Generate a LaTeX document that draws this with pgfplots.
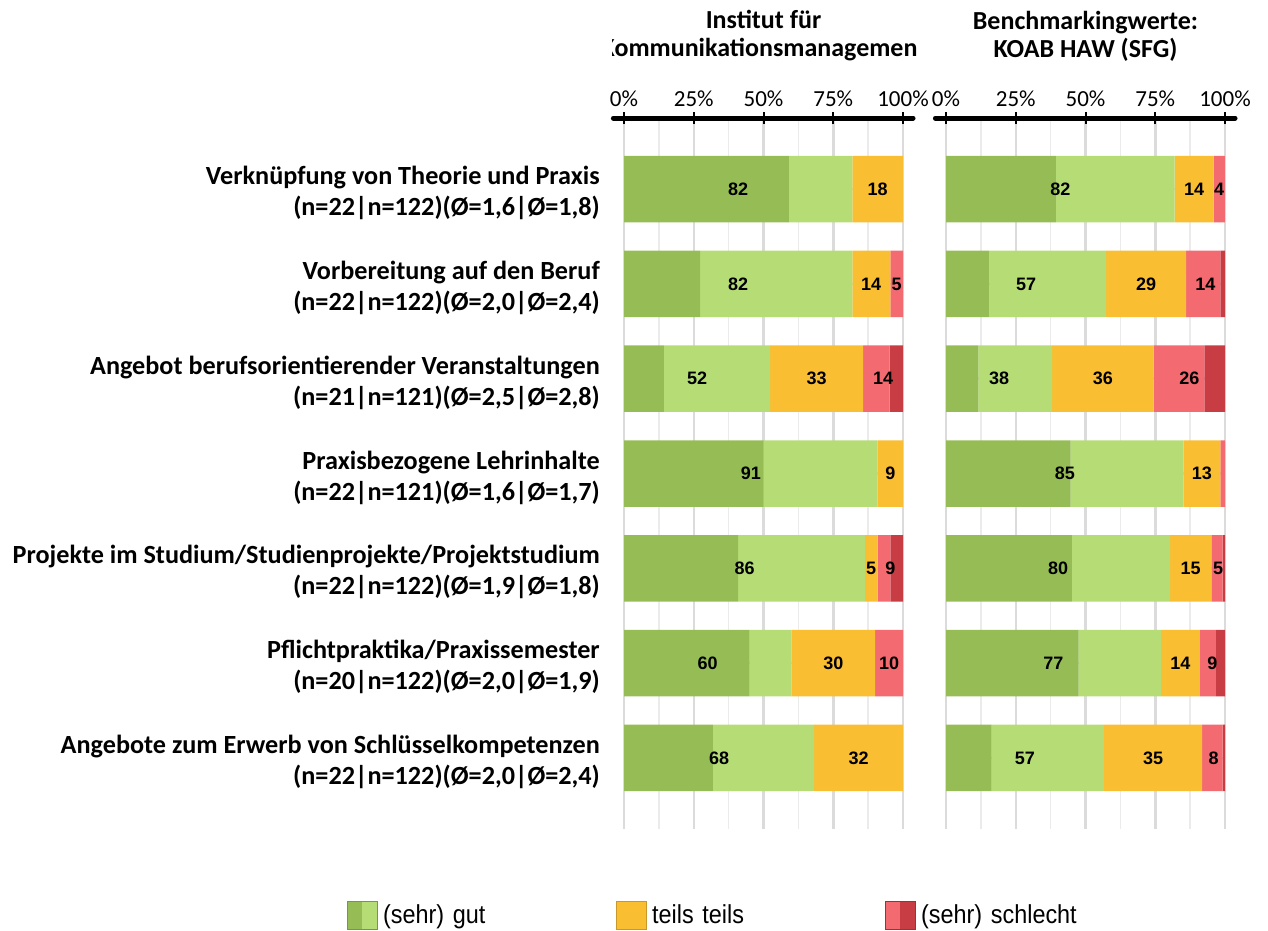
\documentclass[border=0pt]{standalone}
\usepackage{fontspec}
\setmainfont{Carlito}
\newfontfamily\arialfont{Liberation Sans}
\newfontfamily\legfont[FakeStretch=0.9]{Liberation Sans}
\usepackage{pgfplots}
\pgfplotsset{compat=1.18}
\usepackage{pgfplotstable}

\definecolor{dkg}{RGB}{150,189,85}
\definecolor{ltg}{RGB}{182,220,118}
\definecolor{org}{RGB}{250,190,50}
\definecolor{lrd}{RGB}{243,106,112}
\definecolor{drd}{RGB}{200,60,68}

% shares in percent: sehr gut, gut, teils, schlecht, sehr schlecht
\pgfplotstableread{
row dg lg or lr dr
1 59.09 22.73 18.18 0 0
2 27.27 54.55 13.64 4.55 0
3 14.29 38.10 33.33 9.52 4.76
4 50.00 40.91 9.09 0 0
5 40.91 45.45 4.55 4.55 4.55
6 45.00 15.00 30.00 10.00 0
7 31.82 36.36 31.82 0 0
}\leftdata

\pgfplotstableread{
row dg lg or lr dr
1 39.34 42.62 13.93 4.10 0
2 15.57 41.80 28.69 12.30 1.64
3 11.57 26.45 36.36 18.18 7.44
4 44.63 40.50 13.22 1.65 0
5 45.08 35.25 14.75 4.10 0.82
6 47.54 29.51 13.93 5.74 3.28
7 16.39 40.16 35.25 7.38 0.82
}\rightdata

% label positions (centre of the combined segment)
\pgfplotstableread{
x y lab
40.9 1 82
90.9 1 18
40.9 2 82
88.6 2 14
97.7 2 5
26.2 3 52
69.0 3 33
92.9 3 14
45.5 4 91
95.5 4 9
43.2 5 86
88.6 5 5
95.5 5 9
30.0 6 60
75.0 6 30
95.0 6 10
34.1 7 68
84.1 7 32
}\leftlabs

\pgfplotstableread{
x y lab
41.0 1 82
88.9 1 14
97.9 1 4
28.7 2 57
71.7 2 29
93.0 2 14
19.0 3 38
56.2 3 36
87.2 3 26
42.6 4 85
91.7 4 13
40.2 5 80
87.7 5 15
97.5 5 5
38.5 6 77
84.0 6 14
95.5 6 9
28.3 7 57
74.2 7 35
95.9 7 8
}\rightlabs

\pgfplotsset{
  panel/.style={width=279pt, height=711pt, scale only axis,
    xmin=0, xmax=100, ymin=0.25, ymax=7.75, y dir=reverse},
  bars/.style={panel, xbar stacked, bar width=66.5pt,
    axis line style={draw=none},
    xtick={0,25,50,75,100}, minor x tick num=1,
    xtick pos=right, xticklabel pos=right,
    xticklabel={\pgfmathprintnumber[assume math mode=true]{\tick}\%},
    xticklabel style={font=\fontsize{23}{27}\selectfont, anchor=south, inner sep=0pt, yshift=5pt},
    major tick length=12pt, minor tick length=0pt, tick align=center,
    x tick style={black, line width=2pt},
    ytick={1,...,7}, ytick style={draw=none},
    grid=both,
    major grid style={draw=gray!28, line width=2.5pt},
    minor grid style={draw=gray!16, line width=1.5pt},
    clip=false},
  labs/.style={panel, hide axis, clip=false},
  seg/.style={draw=none, forget plot, fill=#1},
  lab/.style={only marks, mark=*, mark size=0pt, mark options={draw=none, fill=none},
    forget plot, nodes near coords, nodes near coords align=center,
    point meta=explicit symbolic,
    every node near coord/.append style={anchor=center, text=black,
      font=\arialfont\bfseries\fontsize{18}{21}\selectfont}},
}

\newcommand{\topline}{\draw[black, line width=5pt, line cap=round]
  (axis description cs:-0.038,1) -- (axis description cs:1.036,1);}

\begin{document}
\begin{tikzpicture}
\useasboundingbox (0,0) rectangle (1268pt,930pt);

\begin{axis}[bars, at={(624pt,101pt)}, anchor=south west,
  yticklabels={
    {Verknüpfung von Theorie und Praxis\\(n=22|n=122)(Ø=1,6|Ø=1,8)},
    {Vorbereitung auf den Beruf\\(n=22|n=122)(Ø=2,0|Ø=2,4)},
    {Angebot berufsorientierender Veranstaltungen\\(n=21|n=121)(Ø=2,5|Ø=2,8)},
    {Praxisbezogene Lehrinhalte\\(n=22|n=121)(Ø=1,6|Ø=1,7)},
    {Projekte im Studium/Studienprojekte/Projektstudium\\(n=22|n=122)(Ø=1,9|Ø=1,8)},
    {Pflichtpraktika/Praxissemester\\(n=20|n=122)(Ø=2,0|Ø=1,9)},
    {Angebote zum Erwerb von Schlüsselkompetenzen\\(n=22|n=122)(Ø=2,0|Ø=2,4)}},
  yticklabel style={align=right, anchor=east, inner sep=0pt, xshift=-18pt, yshift=-4pt,
    font=\bfseries\fontsize{26.2}{31}\selectfont},
  legend columns=3, legend cell align=left,
  legend style={at={(-0.993,-0.121)}, anchor=west, draw=none, fill=none,
    inner sep=0pt, font=\legfont\fontsize{26}{30}\selectfont,
    nodes={text width=228pt, inner xsep=5pt}},
  after end axis/.code={
    \topline
    \begin{scope}
      \clip (axis description cs:-0.043,1) rectangle (axis description cs:1.05,1.17);
      \node[align=center, font=\bfseries\fontsize{26}{28}\selectfont]
        at (axis description cs:0.5,1) [yshift=82pt]
        {Institut für\\Kommunikationsmanagement};
    \end{scope}
  }]
\addplot[seg=dkg] table[x=dg, y=row] {\leftdata};
\addplot[seg=ltg] table[x=lg, y=row] {\leftdata};
\addplot[seg=org] table[x=or, y=row] {\leftdata};
\addplot[seg=lrd] table[x=lr, y=row] {\leftdata};
\addplot[seg=drd] table[x=dr, y=row] {\leftdata};
\addlegendimage{legend image code/.code={
  \fill[dkg] (0pt,-14pt) rectangle (15pt,14pt);
  \fill[ltg] (15pt,-14pt) rectangle (30pt,14pt);
  \draw[dkg!80!black, line width=1pt] (0pt,-14pt) rectangle (30pt,14pt);}}
\addlegendentry{(sehr) gut}
\addlegendimage{legend image code/.code={
  \fill[org] (0pt,-14pt) rectangle (30pt,14pt);
  \draw[org!80!black, line width=1pt] (0pt,-14pt) rectangle (30pt,14pt);}}
\addlegendentry{teils teils}
\addlegendimage{legend image code/.code={
  \fill[lrd] (0pt,-14pt) rectangle (15pt,14pt);
  \fill[drd] (15pt,-14pt) rectangle (30pt,14pt);
  \draw[drd!80!black, line width=1pt] (0pt,-14pt) rectangle (30pt,14pt);}}
\addlegendentry{(sehr) schlecht}
\end{axis}

\begin{axis}[labs, at={(624pt,101pt)}, anchor=south west]
\addplot[lab] table[x=x, y=y, meta=lab] {\leftlabs};
\end{axis}

\begin{axis}[bars, at={(946pt,101pt)}, anchor=south west,
  yticklabels={},
  after end axis/.code={
    \topline
    \node[align=center, font=\bfseries\fontsize{26}{28}\selectfont]
      at (axis description cs:0.5,1) [yshift=82pt]
      {Benchmarkingwerte:\\KOAB HAW (SFG)};
  }]
\addplot[seg=dkg] table[x=dg, y=row] {\rightdata};
\addplot[seg=ltg] table[x=lg, y=row] {\rightdata};
\addplot[seg=org] table[x=or, y=row] {\rightdata};
\addplot[seg=lrd] table[x=lr, y=row] {\rightdata};
\addplot[seg=drd] table[x=dr, y=row] {\rightdata};
\end{axis}

\begin{axis}[labs, at={(946pt,101pt)}, anchor=south west]
\addplot[lab] table[x=x, y=y, meta=lab] {\rightlabs};
\end{axis}
\end{tikzpicture}
\end{document}
